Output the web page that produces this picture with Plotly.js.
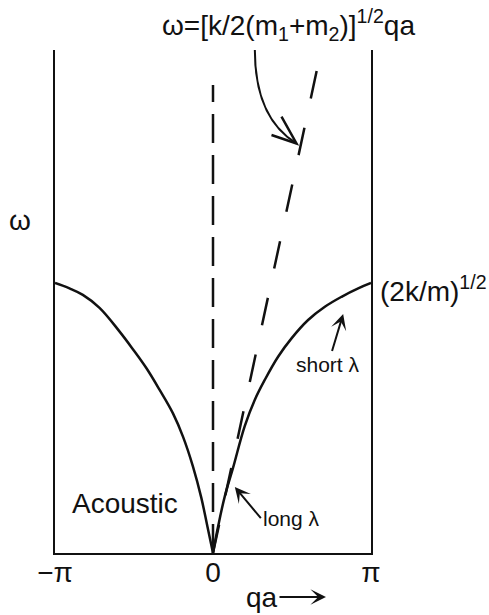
<!DOCTYPE html>
<html>
<head>
<meta charset="utf-8">
<script src="https://cdn.plot.ly/plotly-3.0.1.min.js"></script>
<style>
  html, body { margin: 0; padding: 0; background: #fff; }
  #chart { width: 489px; height: 615px; }
</style>
</head>
<body>
<div id="chart"></div>
<script>
// acoustic branch (omega in units of (2k/m)^1/2)
var qaLeft = [-3.1416, -2.853, -2.588, -2.256, -1.857, -1.593, -1.326, -1.061, -0.796, -0.597, -0.398, -0.233, -0.110, 0];
var omegaLeft = [1.0, 0.980, 0.956, 0.908, 0.820, 0.755, 0.685, 0.604, 0.517, 0.431, 0.320, 0.205, 0.097, 0];
var qaRight = [0, 0.100, 0.233, 0.398, 0.631, 0.830, 1.029, 1.294, 1.561, 1.891, 2.224, 2.556, 2.887, 3.1416];
var omegaRight = [0, 0.097, 0.209, 0.315, 0.470, 0.567, 0.641, 0.727, 0.795, 0.863, 0.912, 0.949, 0.980, 1.0];

// long-wavelength (sound velocity) line and the q = 0 guide
var qaSlope = [2.061, 0];
var omegaSlope = [1.785, 0];
var qaZero = [0, 0];
var omegaZero = [0, 1.733];

var tickVals = [-Math.PI, 0, Math.PI];
var tickText = ["\u2212\u03c0", "0", "\u03c0"];

var ink = "#111";
var fontFam = "Liberation Sans, Arial, sans-serif";

var curveLeft = {
    x: qaLeft, y: omegaLeft, mode: "lines",
    line: { color: ink, width: 2.5, shape: "spline", smoothing: 1.1 },
    hoverinfo: "skip"
};
var curveRight = {
    x: qaRight, y: omegaRight, mode: "lines",
    line: { color: ink, width: 2.5, shape: "spline", smoothing: 1.1 },
    hoverinfo: "skip"
};
var slopeLine = {
    x: qaSlope, y: omegaSlope, mode: "lines",
    line: { color: ink, width: 2.5, dash: "28px,30px" },
    hoverinfo: "skip"
};
var zeroLine = {
    x: qaZero, y: omegaZero, mode: "lines",
    line: { color: ink, width: 2.5, dash: "29px,12px" },
    hoverinfo: "skip"
};

function label(x, y, text, size, anchor, ref) {
    return {
        x: x, y: y, xref: ref || "x", yref: ref || "y", text: text, showarrow: false,
        xanchor: anchor || "center", yanchor: "middle",
        font: { family: fontFam, size: size, color: ink }
    };
}

// label with an arrow pointing from the text to (x, y)
function pointer(x, y, ax, ay, text, size, anchor) {
    return {
        x: x, y: y, xref: "x", yref: "y", ax: ax, ay: ay, text: text,
        xanchor: anchor || "auto",
        showarrow: true, arrowhead: 3, arrowsize: 1.3, arrowwidth: 2,
        arrowcolor: ink, standoff: 0,
        font: { family: fontFam, size: size, color: ink }
    };
}

var layout = {
    width: 489,
    height: 615,
    margin: { l: 55, r: 118, t: 50, b: 62 },
    paper_bgcolor: "#fff",
    plot_bgcolor: "#fff",
    showlegend: false,
    xaxis: {
        range: [-Math.PI, Math.PI],
        tickvals: tickVals,
        ticktext: tickText,
        ticks: "",
        ticklabelstandoff: -7,
        showgrid: false,
        zeroline: false,
        showline: true,
        linecolor: ink,
        linewidth: 2,
        tickfont: { family: fontFam, size: 28, color: ink },
        fixedrange: true
    },
    yaxis: {
        range: [0, 1.863],
        showticklabels: false,
        ticks: "",
        showgrid: false,
        zeroline: false,
        showline: true,
        mirror: true,
        linecolor: ink,
        linewidth: 2,
        fixedrange: true
    },
    shapes: [
        // curved pointer from the formula to the dashed line
        {
            type: "path", xref: "x", yref: "y",
            path: "M 0.832,1.863 Q 0.832,1.611 1.660,1.517",
            line: { color: ink, width: 2 }
        },
        {
            type: "path", xref: "x", yref: "y",
            path: "M 1.163,1.548 L 1.660,1.517 L 1.362,1.616",
            line: { color: ink, width: 2.5 }
        }
    ],
    annotations: [
        label(0.7405, 1.0497, "\u03c9=[k/2(m<sub>1</sub>+m<sub>2</sub>)]<sup>1/2</sup>qa", 28, "center", "paper"),
        label(-0.1108, 0.662, "\u03c9", 28, "center", "paper"),
        label(1.022, 0.525, "(2k/m)<sup>1/2</sup>", 28, "left", "paper"),
        label(-1.756, 0.185, "Acoustic", 28),
        pointer(2.588, 0.885, -15, 50, "short \u03bb", 21),
        pointer(0.434, 0.244, 26, 31, "long \u03bb", 21, "left"),
        {
            x: 0.8576, y: -0.0875, xref: "paper", yref: "paper", ax: -64, ay: 0,
            text: "qa", showarrow: true, arrowhead: 3, arrowsize: 1.3,
            arrowwidth: 2, arrowcolor: ink,
            font: { family: fontFam, size: 28, color: ink }
        }
    ]
};

Plotly.newPlot("chart", [curveLeft, curveRight, slopeLine, zeroLine], layout,
    { displayModeBar: false, staticPlot: true });
</script>
</body>
</html>
